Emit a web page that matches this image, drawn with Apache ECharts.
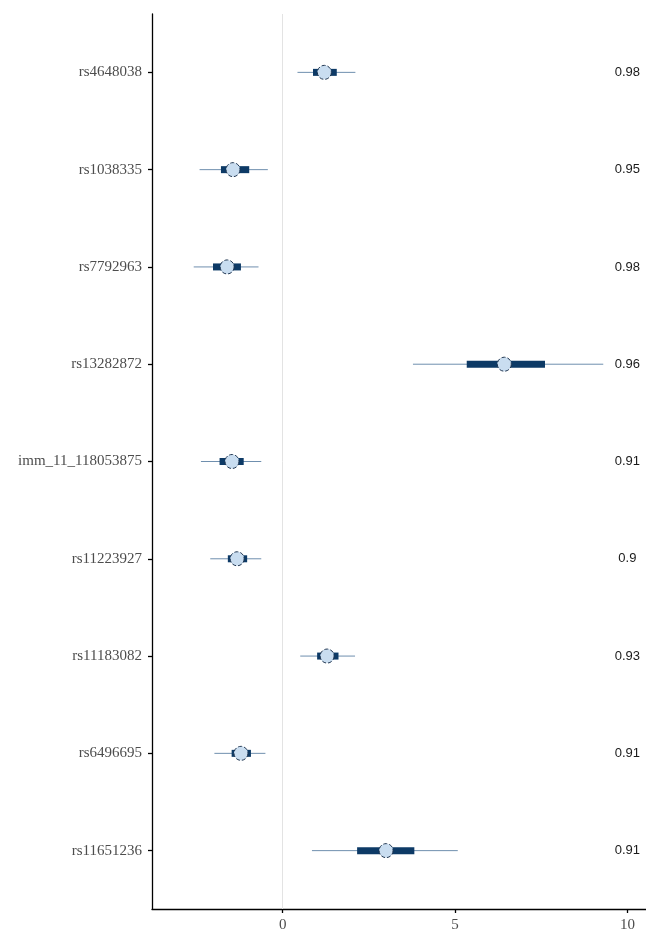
<!DOCTYPE html>
<html><head><meta charset="utf-8">
<script src="https://cdn.jsdelivr.net/npm/echarts@6/dist/echarts.min.js"></script>
<style>html,body{margin:0;padding:0;background:#fff}#c{width:646px;height:938px}</style>
</head><body><div id="c"></div>
<script>
const labels = ['rs4648038','rs1038335','rs7792963','rs13282872','imm_11_118053875','rs11223927','rs11183082','rs6496695','rs11651236'];
const est  = [1.21,-1.44,-1.61,6.43,-1.47,-1.32,1.29,-1.21,3.00];
const lo95 = [0.43,-2.41,-2.58,3.78,-2.37,-2.10,0.51,-1.98,0.85];
const hi95 = [2.11,-0.43,-0.70,9.30,-0.62,-0.62,2.10,-0.50,5.08];
const lo50 = [0.88,-1.79,-2.02,5.34,-1.83,-1.59,1.00,-1.48,2.16];
const hi50 = [1.57,-0.97,-1.21,7.61,-1.13,-1.03,1.62,-0.92,3.82];
const rhat = ['0.98','0.95','0.98','0.96','0.91','0.9','0.93','0.91','0.91'];
const xTicks = [0,5,10];

const rows = labels.map((l,i)=>i+1);
const chart = echarts.init(document.getElementById('c'));
const intervalData = labels.map((l,i)=>[i+1, lo95[i], hi95[i], lo50[i], hi50[i]]);
chart.setOption({
  animation:false,
  grid:{left:152,right:0,top:14,bottom:29},
  xAxis:{type:'value',min:-3.79,max:10.54,
    axisLine:{show:true,onZero:false,lineStyle:{color:'#000',width:1.3}},
    axisTick:{show:true,length:4,lineStyle:{color:'#000',width:1.3},customValues:xTicks},
    axisLabel:{customValues:xTicks,color:'#4d4d4d',fontFamily:'Liberation Serif',fontSize:15,margin:9},
    splitLine:{show:false}},
  yAxis:{type:'value',inverse:true,min:0.4,max:9.6,
    axisLine:{show:true,onZero:false,lineStyle:{color:'#000',width:1.3}},
    axisTick:{show:true,length:4,lineStyle:{color:'#000',width:1.3},customValues:rows},
    axisLabel:{customValues:rows,formatter:v=>labels[Math.round(v)-1]||'',color:'#4d4d4d',fontFamily:'Liberation Serif',fontSize:15,margin:10},
    splitLine:{show:false}},
  series:[
    {type:'custom',data:intervalData,encode:{x:[1,2],y:0},z:2,
     markLine:{silent:true,symbol:'none',label:{show:false},lineStyle:{color:'#e3e3e3',width:1,type:'solid'},data:[{xAxis:0}]},
     renderItem:(params,api)=>{
       const y=api.value(0);
       const a=api.coord([api.value(1),y]), b=api.coord([api.value(2),y]);
       const c=api.coord([api.value(3),y]), d=api.coord([api.value(4),y]);
       return {type:'group',children:[
         {type:'line',shape:{x1:a[0],y1:a[1],x2:b[0],y2:b[1]},style:{stroke:'#6f8fae',lineWidth:1}},
         {type:'line',shape:{x1:c[0],y1:c[1],x2:d[0],y2:d[1]},style:{stroke:'#0d3a66',lineWidth:7}}
       ]};
     }},
    {type:'scatter',data:labels.map((l,i)=>[est[i],i+1]),symbol:'circle',symbolSize:14,z:3,
     itemStyle:{color:'#c9ddf0',borderColor:'#1f3550',borderWidth:1,borderType:'dashed',opacity:1}},
    {type:'custom',data:labels.map((l,i)=>[10,i+1,rhat[i]]),z:4,
     renderItem:(params,api)=>{
       const p=api.coord([api.value(0),api.value(1)]);
       return {type:'text',x:p[0],y:p[1],style:{text:rhat[params.dataIndex],fill:'#1a1a1a',font:'13px "Liberation Sans", Arial, sans-serif',align:'center',verticalAlign:'middle'}};
     }}
  ]
});
</script></body></html>
